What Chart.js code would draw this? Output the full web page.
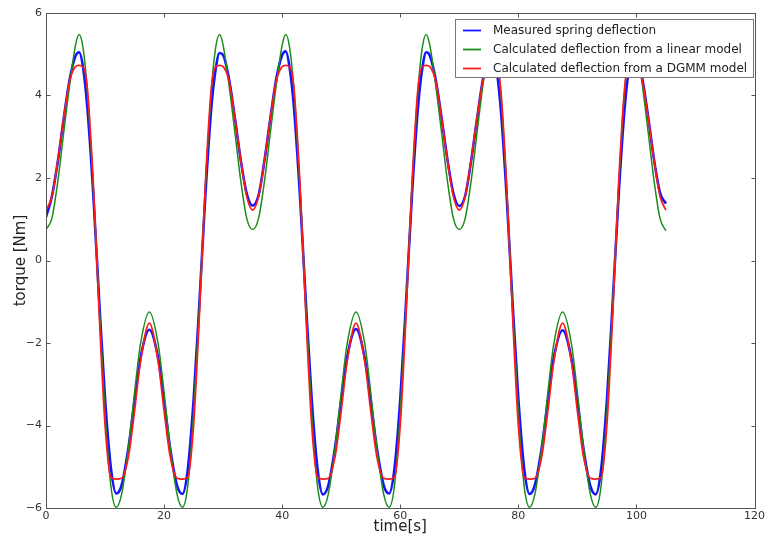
<!DOCTYPE html>
<html>
<head>
<meta charset="utf-8">
<script src="https://cdn.jsdelivr.net/npm/chart.js@4.4.0/dist/chart.umd.min.js"></script>
<style>
  html, body { margin: 0; padding: 0; background: #fff; }
  #wrap { width: 767px; height: 539px; }
</style>
</head>
<body>
<div id="wrap"><canvas id="c" width="767" height="539"></canvas></div>
<script>
// Sample times [s]
const timeS = [
  0, 1, 2, 3, 4, 5, 5.6, 6.3, 7, 8, 9, 10, 11, 11.9, 12.8, 14, 15, 16, 17.5, 19, 20, 21, 22.2, 23.1, 24, 25, 26, 27, 28, 28.7, 29.4, 30, 31, 32, 33, 34,
  35, 36, 37, 38, 39, 40, 40.6, 41.3, 42, 43, 44, 45, 46, 46.9, 47.8, 49, 50, 51, 52.5, 54, 55, 56, 57.2, 58.1, 59, 60, 61, 62, 63, 63.7, 64.4, 65, 66, 67, 68, 69,
  70, 71, 72, 73, 74, 75, 75.6, 76.3, 77, 78, 79, 80, 81, 81.9, 82.8, 84, 85, 86, 87.5, 89, 90, 91, 92.2, 93.1, 94, 95, 96, 97, 98, 98.7, 99.4, 100, 101, 102, 103, 104,
  105
];

// Measured spring deflection [Nm]
const measured = [
  1.05, 1.56, 2.40, 3.44, 4.38, 4.96, 5.05, 4.66, 3.71, 1.62, -0.95, -3.35, -5.04, -5.65, -5.45, -4.50, -3.39, -2.37, -1.68, -2.37, -3.40, -4.52, -5.46, -5.66, -5.08, -3.38, -0.98, 1.60, 3.70, 4.60, 5.03, 4.98, 4.40, 3.45, 2.42, 1.62,
  1.33, 1.58, 2.42, 3.45, 4.40, 4.98, 5.07, 4.64, 3.70, 1.60, -0.97, -3.36, -5.06, -5.67, -5.46, -4.49, -3.38, -2.35, -1.66, -2.38, -3.41, -4.51, -5.45, -5.65, -5.07, -3.37, -0.96, 1.62, 3.71, 4.62, 5.05, 4.97, 4.39, 3.46, 2.44, 1.63,
  1.32, 1.57, 2.41, 3.43, 4.39, 4.97, 5.06, 4.65, 3.72, 1.61, -0.96, -3.34, -5.05, -5.66, -5.44, -4.50, -3.40, -2.36, -1.69, -2.39, -3.40, -4.53, -5.47, -5.67, -5.09, -3.39, -0.97, 1.61, 3.69, 4.61, 5.04, 4.99, 4.41, 3.47, 2.43, 1.64,
  1.38
];

// Linear model output [Nm]
const linearModel = [
  0.75, 1.02, 1.92, 3.10, 4.25, 5.22, 5.48, 5.13, 4.12, 1.79, -1.05, -3.69, -5.48, -5.98, -5.67, -4.50, -3.20, -2.03, -1.25, -2.03, -3.20, -4.50, -5.67, -5.98, -5.48, -3.69, -1.05, 1.79, 4.12, 5.13, 5.48, 5.22, 4.25, 3.10, 1.92, 1.02,
  0.75, 1.02, 1.92, 3.10, 4.25, 5.22, 5.48, 5.13, 4.12, 1.79, -1.05, -3.69, -5.48, -5.98, -5.67, -4.50, -3.20, -2.03, -1.25, -2.03, -3.20, -4.50, -5.67, -5.98, -5.48, -3.69, -1.05, 1.79, 4.12, 5.13, 5.48, 5.22, 4.25, 3.10, 1.92, 1.02,
  0.75, 1.02, 1.92, 3.10, 4.25, 5.22, 5.48, 5.13, 4.12, 1.79, -1.05, -3.69, -5.48, -5.98, -5.67, -4.50, -3.20, -2.03, -1.25, -2.03, -3.20, -4.50, -5.67, -5.98, -5.48, -3.69, -1.05, 1.79, 4.12, 5.13, 5.48, 5.22, 4.25, 3.10, 1.92, 1.02,
  0.72
];

// DGMM model output [Nm]
const dgmmModel = [
  1.22, 1.55, 2.42, 3.45, 4.35, 4.70, 4.73, 4.69, 4.18, 1.91, -1.27, -4.00, -5.26, -5.30, -5.28, -4.73, -3.65, -2.46, -1.52, -2.46, -3.65, -4.73, -5.28, -5.30, -5.26, -4.00, -1.27, 1.91, 4.18, 4.69, 4.73, 4.70, 4.35, 3.45, 2.42, 1.55,
  1.22, 1.55, 2.42, 3.45, 4.35, 4.70, 4.73, 4.69, 4.18, 1.91, -1.27, -4.00, -5.26, -5.30, -5.28, -4.73, -3.65, -2.46, -1.52, -2.46, -3.65, -4.73, -5.28, -5.30, -5.26, -4.00, -1.27, 1.91, 4.18, 4.69, 4.73, 4.70, 4.35, 3.45, 2.42, 1.55,
  1.22, 1.55, 2.42, 3.45, 4.35, 4.70, 4.73, 4.69, 4.18, 1.91, -1.27, -4.00, -5.26, -5.30, -5.28, -4.73, -3.65, -2.46, -1.52, -2.46, -3.65, -4.73, -5.28, -5.30, -5.26, -4.00, -1.27, 1.91, 4.18, 4.69, 4.73, 4.70, 4.35, 3.45, 2.42, 1.55,
  1.22
];

const seriesLabels = [
  'Measured spring deflection',
  'Calculated deflection from a linear model',
  'Calculated deflection from a DGMM model'
];

const xTicks = [0, 20, 40, 60, 80, 100, 120];
const yTicks = [-6, -4, -2, 0, 2, 4, 6];

const FONT = '"DejaVu Sans", "Liberation Sans", sans-serif';
const FRAME = '#555555';

const toPoints = vals => vals.map((v, i) => ({ x: timeS[i], y: v }));
const fmt = v => (v < 0 ? '\u2212' + Math.abs(v) : String(v));

// Box around the axes with inward tick marks on all four sides
const frameTicks = {
  id: 'frameTicks',
  afterDatasetsDraw(chart) {
    const { ctx, chartArea: a, scales: { x, y } } = chart;
    const L = Math.round(a.left) + 0.5, R = Math.round(a.right) + 0.5;
    const T = Math.round(a.top) + 0.5, B = Math.round(a.bottom) + 0.5;
    const len = 4;
    ctx.save();
    ctx.strokeStyle = FRAME;
    ctx.lineWidth = 1;
    ctx.strokeRect(L, T, R - L, B - T);
    ctx.beginPath();
    x.ticks.forEach(t => {
      const px = Math.round(x.getPixelForValue(t.value)) + 0.5;
      ctx.moveTo(px, B); ctx.lineTo(px, B - len);
      ctx.moveTo(px, T); ctx.lineTo(px, T + len);
    });
    y.ticks.forEach(t => {
      const py = Math.round(y.getPixelForValue(t.value)) + 0.5;
      ctx.moveTo(L, py); ctx.lineTo(L + len, py);
      ctx.moveTo(R, py); ctx.lineTo(R - len, py);
    });
    ctx.stroke();
    ctx.restore();
  }
};

// Framed legend in the upper right corner of the plot
const boxLegend = {
  id: 'boxLegend',
  afterDraw(chart) {
    const { ctx, chartArea: a } = chart;
    const sets = chart.data.datasets;
    ctx.save();
    ctx.font = '12px ' + FONT;
    const textW = Math.max(...sets.map(d => ctx.measureText(d.label).width));
    const padL = 8, lineLen = 18, gap = 12, padR = 6, rowH = 19;
    const w = Math.round(padL + lineLen + gap + textW + padR);
    const h = 58;
    const right = Math.round(a.right) - 2;
    const left = right - w;
    const top = Math.round(a.top) + 6;
    ctx.fillStyle = '#ffffff';
    ctx.fillRect(left, top, w, h);
    ctx.strokeStyle = '#777777';
    ctx.lineWidth = 1;
    ctx.strokeRect(left + 0.5, top + 0.5, w, h);
    sets.forEach((d, i) => {
      const cy = top + 11.5 + i * rowH;
      ctx.strokeStyle = d.borderColor;
      ctx.lineWidth = 1.8;
      ctx.beginPath();
      ctx.moveTo(left + padL, cy);
      ctx.lineTo(left + padL + lineLen, cy);
      ctx.stroke();
      ctx.fillStyle = '#222222';
      ctx.textBaseline = 'middle';
      ctx.textAlign = 'left';
      ctx.fillText(d.label, left + padL + lineLen + gap, cy + 0.5);
    });
    ctx.restore();
  }
};

new Chart(document.getElementById('c'), {
  type: 'line',
  data: {
    datasets: [
      { label: seriesLabels[0], data: toPoints(measured), borderColor: '#1414ff', borderWidth: 2.6, order: 3 },
      { label: seriesLabels[1], data: toPoints(linearModel), borderColor: '#1a8c1a', borderWidth: 1.5, order: 2 },
      { label: seriesLabels[2], data: toPoints(dgmmModel), borderColor: '#ff1a1a', borderWidth: 1.7, order: 1 }
    ]
  },
  options: {
    responsive: false,
    animation: false,
    events: [],
    layout: { padding: { top: 13, right: 12, left: 0, bottom: 0 } },
    elements: {
      point: { radius: 0 },
      line: { cubicInterpolationMode: 'monotone', fill: false }
    },
    plugins: { legend: { display: false }, tooltip: { enabled: false } },
    scales: {
      x: {
        type: 'linear', min: 0, max: 120,
        afterBuildTicks: s => { s.ticks = xTicks.map(v => ({ value: v })); },
        afterFit: s => { s.height = 31; },
        grid: { display: false, drawTicks: false },
        border: { display: false },
        ticks: { padding: 2, maxRotation: 0, autoSkip: false, color: '#333', font: { family: FONT, size: 11 }, callback: v => fmt(v) },
        title: { display: true, text: 'time[s]', color: '#222', font: { family: FONT, size: 15 }, padding: { top: 0, bottom: 3 } }
      },
      y: {
        type: 'linear', min: -6, max: 6,
        afterBuildTicks: s => { s.ticks = yTicks.map(v => ({ value: v })); },
        afterFit: s => { s.width = 46; },
        grid: { display: false, drawTicks: false },
        border: { display: false },
        ticks: { padding: 4, autoSkip: false, color: '#333', font: { family: FONT, size: 11 }, callback: v => fmt(v) },
        title: { display: true, text: 'torque [Nm]', color: '#222', font: { family: FONT, size: 15 }, padding: { top: 12, bottom: 0 } }
      }
    }
  },
  plugins: [frameTicks, boxLegend]
});
</script>
</body>
</html>
